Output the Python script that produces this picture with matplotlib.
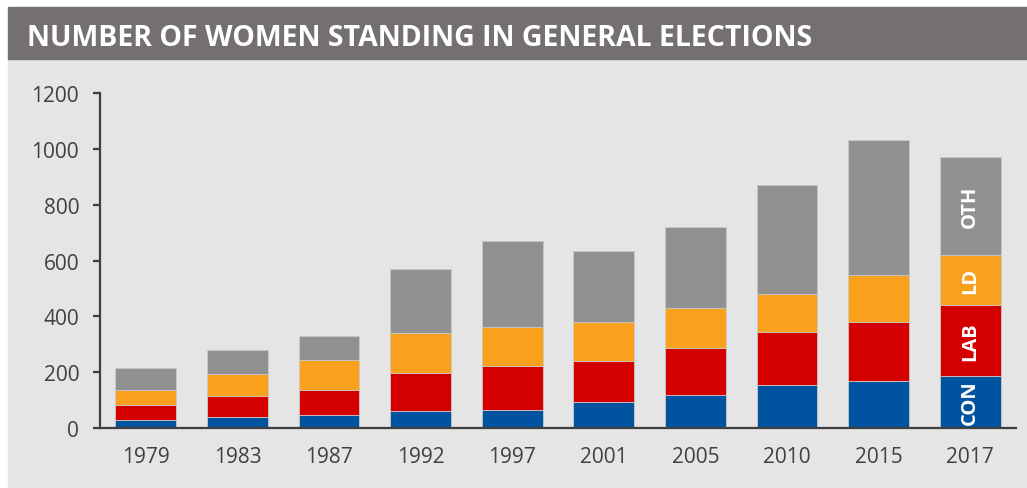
import matplotlib.pyplot as plt
from matplotlib.patches import Rectangle
import numpy as np

years = ["1979", "1983", "1987", "1992", "1997", "2001", "2005", "2010", "2015", "2017"]
con = [29, 40, 46, 60, 66, 92, 118, 153, 169, 186]
lab = [53, 76, 92, 138, 157, 148, 168, 190, 212, 254]
ld = [54, 77, 105, 143, 140, 140, 145, 137, 166, 182]
oth = [80, 87, 86, 229, 309, 256, 289, 393, 486, 350]

series = [("CON", con, "#00539f"), ("LAB", lab, "#d40000"),
          ("LD", ld, "#f9a11d"), ("OTH", oth, "#919191")]

plt.rcParams["font.family"] = ["Open Sans", "DejaVu Sans"]

fig = plt.figure(figsize=(10.27, 4.89), dpi=100, facecolor="white")
W, H = 1027, 489

# grey panel and title bar
fig.patches.append(Rectangle((8 / W, 0), 1 - 8 / W, 1 - 60 / H,
                             transform=fig.transFigure, color="#e5e5e5", zorder=-2))
fig.patches.append(Rectangle((8 / W, 1 - 60 / H), 1 - 8 / W, 52 / H,
                             transform=fig.transFigure, color="#757070", zorder=-2))
fig.text(27 / W, 1 - 38 / H, "NUMBER OF WOMEN STANDING IN GENERAL ELECTIONS",
         color="white", fontsize=20.5, fontweight="bold", va="center", ha="left")

ax = fig.add_axes([100 / W, 1 - 429 / H, 916 / W, (429 - 94.3) / H])
ax.set_zorder(1)
ax.set_facecolor("none")

x = np.arange(len(years))
bottom = np.zeros(len(years))
for name, vals, color in series:
    vals = np.array(vals)
    ax.bar(x, vals, width=0.665, bottom=bottom, color=color,
           edgecolor="#c8c8c8", linewidth=0.6, zorder=2)
    # label inside the last bar
    ax.text(x[-1], bottom[-1] + vals[-1] / 2, name, rotation=90, color="white",
            fontsize=14.5, fontweight="bold", ha="center", va="center", zorder=3)
    bottom += vals

ax.set_xlim(-0.5, len(years) - 0.5)
ax.set_ylim(0, 1200)
ax.set_yticks(range(0, 1201, 200))
ax.set_xticks(x)
ax.set_xticklabels(years)

for s in ["top", "right"]:
    ax.spines[s].set_visible(False)
for s in ["left", "bottom"]:
    ax.spines[s].set_color("#404040")
    ax.spines[s].set_linewidth(1.6)

ax.tick_params(axis="y", length=5, width=1.6, color="#404040", pad=10,
               labelsize=15, labelcolor="#404040")
ax.tick_params(axis="x", length=0, pad=13, labelsize=15, labelcolor="#404040")

fig.savefig("out.png", dpi=100, facecolor=fig.get_facecolor())
